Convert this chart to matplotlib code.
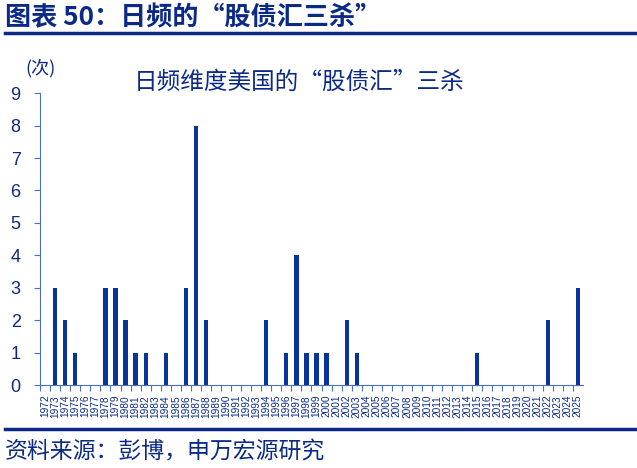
import matplotlib
matplotlib.use("Agg")
import matplotlib.pyplot as plt
import numpy as np

plt.rcParams['font.family'] = ['Liberation Sans', 'Noto Sans CJK SC', 'DejaVu Sans']
cjk = ['Noto Sans CJK SC', 'DejaVu Sans']

# données : nombre de "triple baisse" actions/obligations/dollar par an
annees = list(range(1972, 2026))
valeurs = [0, 3, 2, 1, 0, 0, 3, 3, 2, 1, 1, 0, 1, 0, 3, 8, 2, 0, 0, 0,
           0, 0, 2, 0, 1, 4, 1, 1, 1, 0, 2, 1, 0, 0, 0, 0, 0, 0, 0, 0,
           0, 0, 0, 1, 0, 0, 0, 0, 0, 0, 2, 0, 0, 3]
titre = "日频维度美国的“股债汇”三杀"
entete = "图表 50：日频的“股债汇三杀”"
source = "资料来源：彭博，申万宏源研究"

navy = '#0B2A87'
bleu_barre = '#08349C'
bleu_axe = '#4A6FC8'

fig = plt.figure(figsize=(6.37, 4.68), dpi=100)
ax = fig.add_axes([0.063, 0.177, 0.852, 0.624])

x = np.arange(len(annees))
ax.bar(x, valeurs, width=0.42, color=bleu_barre)

ax.set_xlim(-0.5, len(annees) - 0.5)
ax.set_ylim(0, 9)
ax.set_yticks(range(10))
ax.tick_params(axis='y', direction='out', length=4, color=bleu_axe,
               labelsize=13, labelcolor=navy, pad=10)

# graduations entre les catégories, étiquettes au centre
ax.set_xticks(x - 0.5, minor=False)
ax.set_xticks(x, minor=True)
ax.set_xticklabels([''] * len(annees))
ax.set_xticklabels([str(a) for a in annees], minor=True, rotation=90, fontsize=7.3, color=navy)
ax.tick_params(axis='x', which='major', direction='out', length=4, color=bleu_axe)
ax.tick_params(axis='x', which='minor', length=0, pad=7)

for s in ['top', 'right']:
    ax.spines[s].set_visible(False)
ax.spines['left'].set_color(bleu_axe)
ax.spines['bottom'].set_color(bleu_axe)

fig.text(0.008, 0.962, entete, fontsize=18.8, fontweight='bold', color=navy, va='center', family=cjk)
fig.add_artist(plt.Line2D([0.008, 0.997], [0.929, 0.929], color=navy, lw=2.5))
fig.text(0.47, 0.825, titre, fontsize=17, color=navy, ha='center', va='center', family=cjk)
fig.text(0.063, 0.855, "(次)", fontsize=13, color=navy, ha='center', va='center', family=cjk)
fig.add_artist(plt.Line2D([0.008, 0.997], [0.083, 0.083], color=navy, lw=2.5))
fig.text(0.008, 0.034, source, fontsize=16.5, color=navy, va='center', family=cjk)

fig.savefig("out.png", dpi=100)
